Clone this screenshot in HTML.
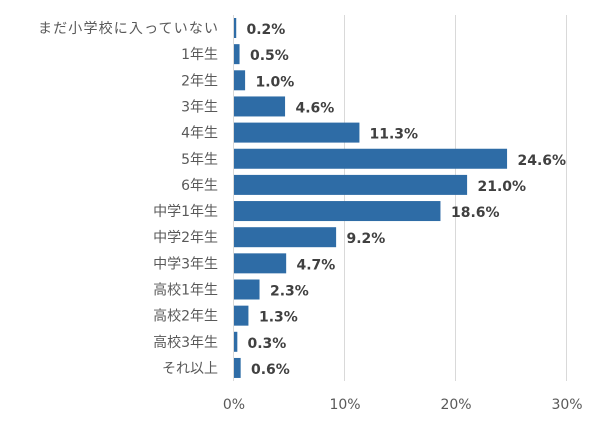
<!DOCTYPE html>
<html><head><meta charset="utf-8"><style>body{margin:0;background:#fff}</style></head><body>
<svg width="600" height="420" xmlns="http://www.w3.org/2000/svg" font-family="DejaVu Sans, Noto Sans CJK JP, sans-serif">
<g stroke="#d9d9d9" stroke-width="1">
<line x1="344.5" y1="15" x2="344.5" y2="381"/>
<line x1="455.5" y1="15" x2="455.5" y2="381"/>
<line x1="566.5" y1="15" x2="566.5" y2="381"/>
<line x1="233.5" y1="15" x2="233.5" y2="381"/>
</g>
<g fill="#2e6ca6">
<rect x="234" y="18" width="2.22" height="20"/>
<rect x="234" y="44.15" width="5.55" height="20"/>
<rect x="234" y="70.3" width="11.1" height="20"/>
<rect x="234" y="96.45" width="51.06" height="20"/>
<rect x="234" y="122.6" width="125.43" height="20"/>
<rect x="234" y="148.75" width="273.06" height="20"/>
<rect x="234" y="174.9" width="233.1" height="20"/>
<rect x="234" y="201.05" width="206.46" height="20"/>
<rect x="234" y="227.2" width="102.12" height="20"/>
<rect x="234" y="253.35" width="52.17" height="20"/>
<rect x="234" y="279.5" width="25.53" height="20"/>
<rect x="234" y="305.65" width="14.43" height="20"/>
<rect x="234" y="331.8" width="3.33" height="20"/>
<rect x="234" y="357.95" width="6.66" height="20"/>
</g>
<g font-size="14" fill="#595959" text-anchor="end">
<text x="218" y="33" textLength="180" lengthAdjust="spacing">まだ小学校に入っていない</text>
<text x="218" y="59.15">1年生</text>
<text x="218" y="85.3">2年生</text>
<text x="218" y="111.45">3年生</text>
<text x="218" y="137.6">4年生</text>
<text x="218" y="163.75">5年生</text>
<text x="218" y="189.9">6年生</text>
<text x="218" y="216.05">中学1年生</text>
<text x="218" y="242.2">中学2年生</text>
<text x="218" y="268.35">中学3年生</text>
<text x="218" y="294.5">高校1年生</text>
<text x="218" y="320.65">高校2年生</text>
<text x="218" y="346.8">高校3年生</text>
<text x="218" y="372.95">それ以上</text>
</g>
<g font-size="14" font-weight="bold" fill="#404040">
<text x="246.5" y="34">0.2%</text>
<text x="250" y="60.15">0.5%</text>
<text x="255.5" y="86.3">1.0%</text>
<text x="295.5" y="112.45">4.6%</text>
<text x="369.5" y="138.6">11.3%</text>
<text x="517.5" y="164.75">24.6%</text>
<text x="477.5" y="190.9">21.0%</text>
<text x="451" y="217.05">18.6%</text>
<text x="346.5" y="243.2">9.2%</text>
<text x="296.5" y="269.35">4.7%</text>
<text x="270" y="295.5">2.3%</text>
<text x="259" y="321.65">1.3%</text>
<text x="247.5" y="347.8">0.3%</text>
<text x="251" y="373.95">0.6%</text>
</g>
<g font-size="14" fill="#595959" text-anchor="middle">
<text x="234" y="409">0%</text><text x="345" y="409">10%</text><text x="456" y="409">20%</text><text x="567" y="409">30%</text>
</g>
</svg>
</body></html>
